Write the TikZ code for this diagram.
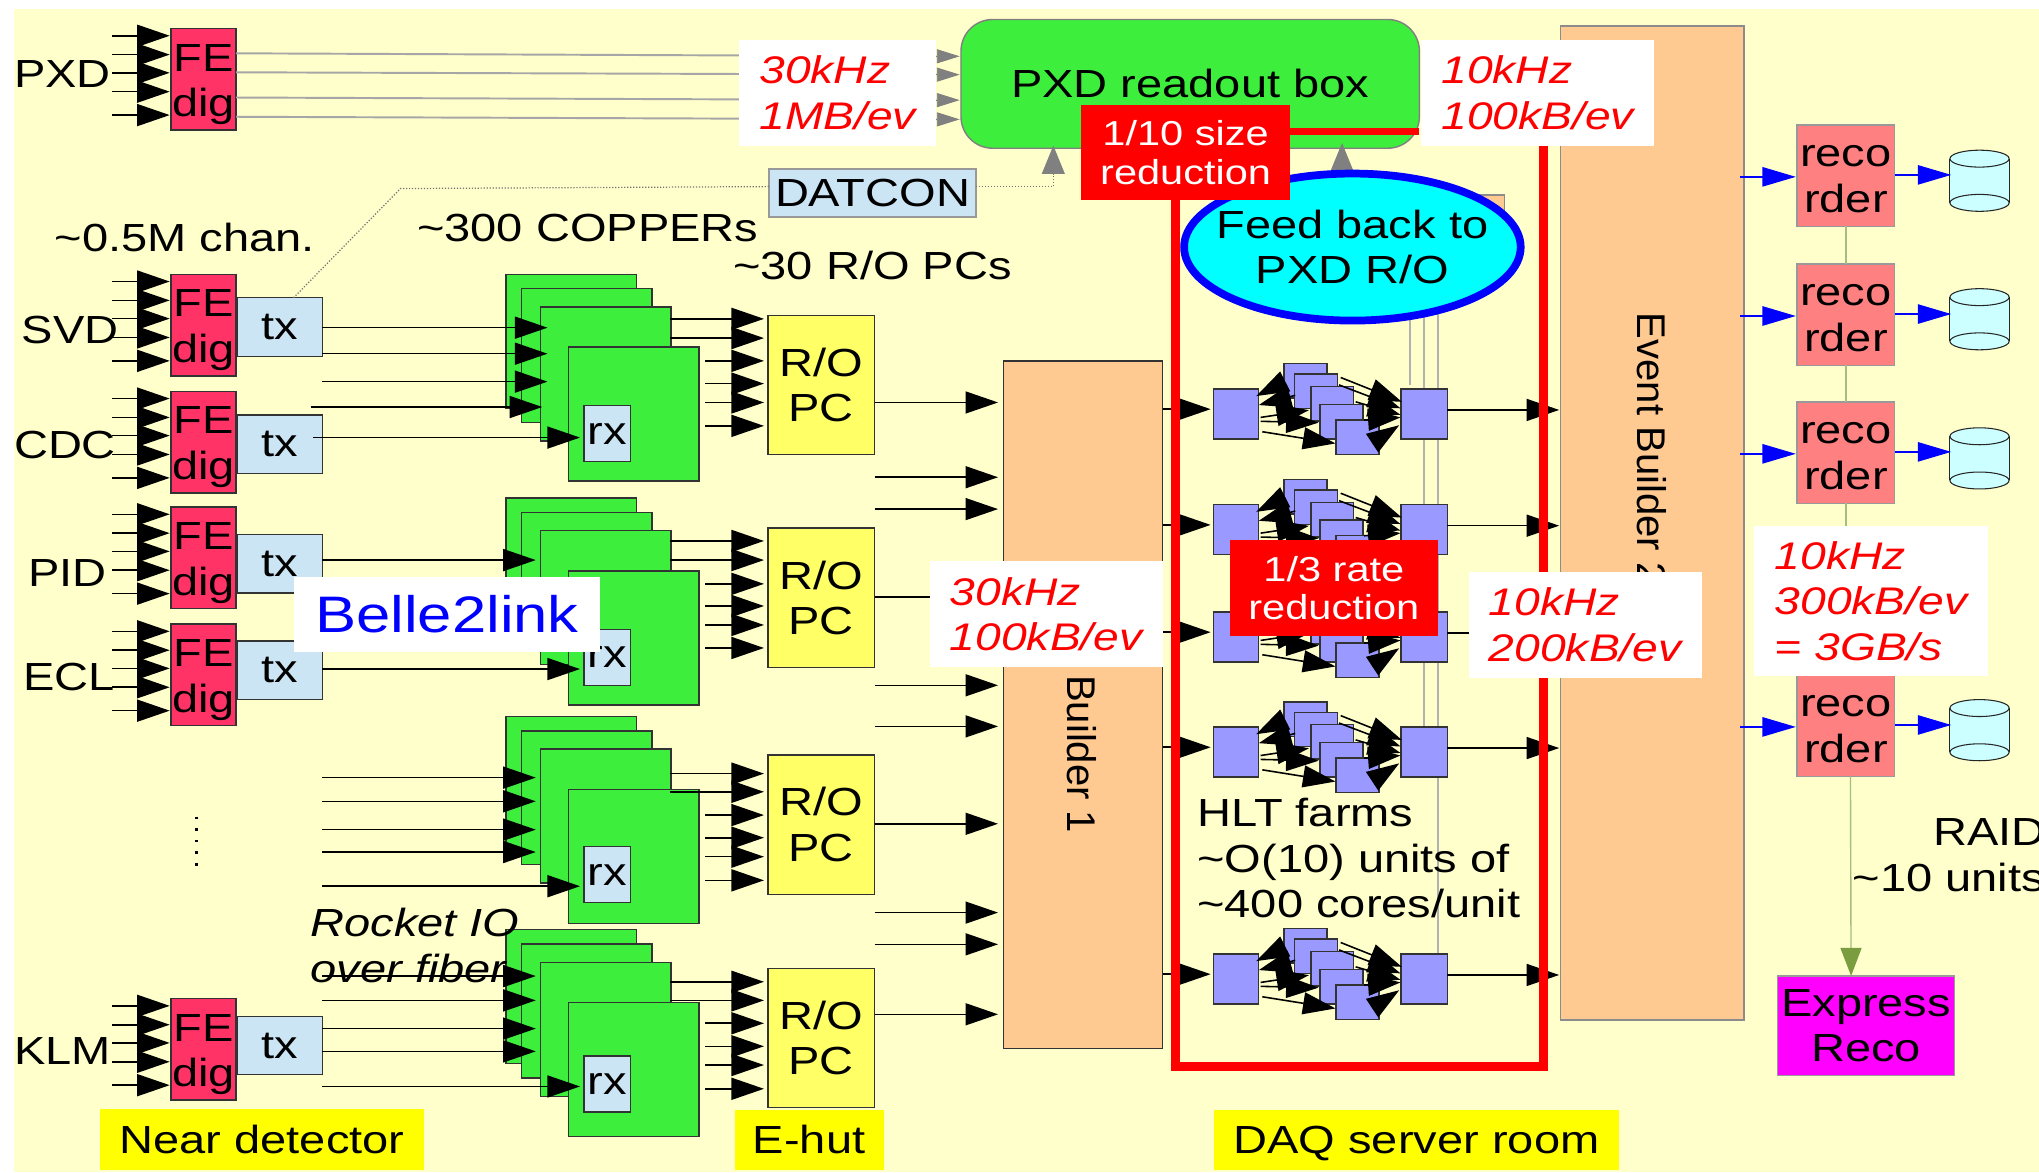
\documentclass[tikz,border=0pt]{standalone}
\usepackage{fontspec}
\setmainfont[FakeStretch=1.2]{Liberation Sans}
\newfontfamily\rotfont{Liberation Sans}
\usetikzlibrary{fit}
\usetikzlibrary{calc}
\usetikzlibrary{arrows.meta}
\usetikzlibrary{shapes.geometric}
\definecolor{paper}{HTML}{FFFFCC}
\definecolor{fered}{HTML}{FF3366}
\definecolor{paleblue}{HTML}{CCE5F5}
\definecolor{copgreen}{HTML}{3DEE3D}
\definecolor{pcyellow}{HTML}{FFFF66}
\definecolor{peach}{HTML}{FFC992}
\definecolor{hltblue}{HTML}{9999FF}
\definecolor{recpink}{HTML}{FF8080}
\definecolor{diskcyan}{HTML}{CCFFFF}
\definecolor{sprout}{HTML}{A8BC80}
\definecolor{sproutdark}{HTML}{7A9E3F}
\definecolor{aqua}{HTML}{00FFFF}
\definecolor{purered}{HTML}{FF0000}
\definecolor{pureblue}{HTML}{0000FF}
\definecolor{puremagenta}{HTML}{FF00FF}
\definecolor{pureyellow}{HTML}{FFFF00}
\definecolor{headgray}{HTML}{808080}
\newcommand{\lblfont}{\fontsize{22.3}{26}\selectfont}

\begin{document}
\begin{tikzpicture}[
  x=0.026cm, y=-0.026cm, font=\lblfont,
  box/.style={draw, black!80, rectangle, line width=0.8pt, inner sep=0pt, outer sep=0pt},
  tag/.style={label={[align=center, black]center:{#1}}},
  tagdown/.style 2 args={label={[align=center, black, yshift=#1]center:{#2}}},
  febox/.style={box, fill=fered},
  txbox/.style={box, fill=paleblue},
  rxbox/.style={box, fill=paleblue},
  copper/.style={box, fill=copgreen},
  ropc/.style={box, fill=pcyellow},
  builder/.style={box, fill=peach},
  hltunit/.style={box, fill=hltblue},
  recorder/.style={box, draw=black!40, fill=recpink},
  ratebox/.style={fill=white, inner sep=0pt, outer sep=0pt,
    label={[align=left, purered, font=\fontsize{21.9}{26}\selectfont\itshape]center:{#1}}},
  redbox/.style={fill=purered, inner sep=0pt, outer sep=0pt,
    label={[align=center, white, font=\fontsize{19.7}{22}\selectfont]center:{#1}}},
  place/.style={fill=pureyellow, inner sep=0pt, outer sep=0pt,
    label={[black, text height=16pt, text depth=0pt]center:{#1}}},
  arr/.style={black, line width=0.9pt, -{Triangle[length=18.5pt, width=12.5pt]}},
  grayarr/.style={black!35, line width=1.1pt},
  grayhead/.style={headgray, line width=0.5pt, -{Triangle[length=16pt, width=13pt]}},
  smallhead/.style={headgray, line width=0.5pt, -{Triangle[length=13pt, width=8pt]}},
  bluearr/.style={pureblue, line width=0.9pt, -{Triangle[length=19pt, width=11pt]}},
  greenline/.style={sprout, line width=0.8pt},
  sideline/.style={black!30, line width=1pt},
  dotline/.style={black!55, line width=0.7pt, densely dotted},
  diskline/.style={black!85, line width=0.6pt, fill=diskcyan},
  redline/.style={purered, line width=5pt},
]
\useasboundingbox (0,0) rectangle (1568,901.3);

\node (bg) [fill=paper, inner sep=0pt, outer sep=0pt, fit={(11,7) (1568,901.3)}] {};

\node (eb) [builder, draw=black!45, fit={(1200,20) (1341,784.5)}] {};
\node (ebname) [rotate=-90, font=\fontsize{22.8}{26}\selectfont\rotfont] at (1270,345) {Event Builder 2};
\node (ebtop) [builder, draw=black!45, fit={(1100,150) (1157,200)}] {};
\node (b1) [builder, fit={(771.5,277.5) (894,806.5)}] {};
\node (b1name) [rotate=-90, font=\fontsize{22.8}{26}\selectfont\rotfont] at (832,580) {Builder 1};

\foreach [evaluate={\yb=\y+78}] \n/\y in {PXD/22,SVD/211,CDC/301,PID/390,ECL/480,KLM/768} {
  \node (fe\n) [febox, tagdown={-3pt}{FE\\dig}, fit={(131.5,\y) (181.5,\yb)}] {};
  \foreach \dd in {5.5,20,34,48.5,66.5}
    \draw[arr] ($(fe\n.north west)+(-45,\dd)$) -- ($(fe\n.north west)+(-1,\dd)$);
}
\foreach \n/\y in {SVD/229,CDC/319,PID/411,ECL/493,KLM/781.5} {
  \node (tx\n) [txbox, tag={tx}, fit={(182.5,\y) (248,\y+45)}] {};
}
\node (lblPXD) at (48,57) {PXD};
\node (lblSVD) at (54,254) {SVD};
\node (lblCDC) at (50,342) {CDC};
\node (lblPID) at (52,441) {PID};
\node (lblECL) at (53,521) {ECL};
\node (lblKLM) at (48,808) {KLM};
\node (chan) at (142,183) {\textasciitilde0.5M chan.};
\node (coppers) at (452,175) {\textasciitilde300 COPPERs};
\node (ropcs) at (671,204) {\textasciitilde30 R/O PCs};

\coordinate (dotsa) at (151,628);
\coordinate (dotsb) at (151,666);
\draw[line width=1.5pt, dash pattern=on 1.5pt off 5.1pt] (dotsa) -- (dotsb);

\node (pxd) [box, draw=black!50, fill=copgreen, rounded corners=18pt, tag={PXD readout box},
  fit={(739,15) (1091.5,114)}] {};
\foreach \ds/\de in {19/28.3,33.6/42.4,53/62,67.8/76.8} {
  \draw[grayarr] ($(fePXD.north east)+(0,\ds)$) -- ($(pxd.north west)+(-19,\de)$);
}

\node (datcon) [txbox, draw=black!40, tag={DATCON}, fit={(591.5,130) (750.5,167)}] {};
\coordinate (dbend) at (308,145);
\coordinate (pxdin) at (810,134);
\coordinate (fbin) at (1032,131);
\draw[dotline] ($(txSVD.north)+(10.5,0)$) -- (dbend) -- ($(datcon.west)+(0,-5)$);
\draw[dotline] ($(datcon.east)+(0,-5)$) -| (pxdin);
\draw[grayhead] (pxdin) -- ++(0,-22);
\draw[grayhead] (fbin) -- ++(0,-21);

\foreach \st/\ytop/\rxd/\rxs/\rxy in {1/211/101/-208/3,2/383/101/-201/9,3/551/100/-201/9,4/715/97/-201/2} {
  \foreach \lay/\xl/\dy in {a/389/0,b/401/11,c/415.5/25,d/437/56}
    \node (cop\st\lay) [copper, fit={(\xl,\ytop+\dy) (\xl+100.5,\ytop+\dy+103)}] {};
  \node (rx\st) [rxbox, tag={rx}, fit={(449,\ytop+\rxd) (485,\ytop+\rxd+43)}] {};
  \draw[arr] ($(rx\st.west)+(\rxs,\rxy)$) -- ($(rx\st.west)+(-3,\rxy)$);
}
\foreach \st/\dy/\xs/\xt in {1/41/-141/32,1/61/-141/32,1/82.5/-141/32,1/102/-150/28,2/47.7/-141/23,
  3/47/-141/23,3/65.2/-141/23,3/87/-141/23,3/104.2/-141/23,
  4/35.6/-141/23,4/54.3/-141/23,4/76/-141/23,4/93.5/-141/23}
  \draw[arr] ($(cop\st a.north west)+(\xs,\dy)$) -- ($(cop\st a.north west)+(\xt,\dy)$);

\foreach \st/\ytop/\yb/\oy/\da/\db/\dc/\de/\df/\dg in {
  1/242.5/349.5/67/2.7/17.5/35/52.5/67/85,
  2/406/513.5/53/10/24.7/43/60/74.6/92.3,
  3/580.5/688/53/14.4/28.4/46.3/63.7/78.3/96.5,
  4/745/851.5/35/10/24.3/41.9/59.6/74/92.3} {
  \node (pc\st) [ropc, tag={R/O\\PC}, fit={(590.5,\ytop) (672.5,\yb)}] {};
  \foreach \dd/\xs in {\da/-75,\db/-75,\dc/-48,\de/-48,\df/-48,\dg/-48}
    \draw[arr] ($(pc\st.north west)+(\xs,\dd)$) -- ($(pc\st.north west)+(-3,\dd)$);
  \draw[arr] ($(pc\st.north east)+(0,\oy)$) -- ($(pc\st.north east)+(95,\oy)$);
}
\foreach \st/\dd in {1/124.5,1/149,2/121,2/152.6,3/121.3,3/145.7}
  \draw[arr] ($(pc\st.north east)+(0,\dd)$) -- ($(pc\st.north east)+(95,\dd)$);

\coordinate (fbc) at (1040,190);
\coordinate (sidea) at (1084,296);
\coordinate (sideb) at (1095,559);
\coordinate (sidec) at (1106,733);
\draw[sideline] ($(fbc)+(44,0)$) -- (sidea);
\draw[sideline] ($(fbc)+(55,0)$) -- (sideb);
\draw[sideline] ($(fbc)+(66,0)$) -- (sidec);

\foreach \ro/\y in {1/299,2/388,3/470.5,4/559,5/733.5} {
  \foreach \lay/\xl/\dy in {a/987.5/-19.3,b/995.5/-11.3,c/1008/-1.7,d/1015/12,e/1027.5/24}
    \node (farm\ro\lay) [hltunit, fit={(\xl,\y+\dy) (\xl+33,\y+\dy+26.5)}] {};
  \node (hin\ro) [hltunit, fit={(933,\y) (968,\y+38.5)}] {};
  \node (hout\ro) [hltunit, fit={(1077.5,\y) (1113,\y+38.5)}] {};
  \draw[arr] ($(hin\ro.west)+(-39,-3.6)$) -- ($(hin\ro.west)+(-2,-3.6)$);
  \draw[arr] ($(hout\ro.east)+(0,-3)$) -- ($(hout\ro.east)+(86,-3)$);
  \foreach \xa/\ya/\xb/\yb in {54/-5/33/5.6,63/5/35/12.5,36.4/22/73.6/16.4,36.4/25/81/26,37.7/33/94/42,
    98/-8.7/145/10,96.7/-3/144/15,109.5/10/144/20,116/24/144/22,123.6/40.8/143/28}
    \draw[arr] ($(hin\ro.north west)+(\xa,\ya)$) -- ($(hin\ro.north west)+(\xb,\yb)$);
}

\coordinate (frametl) at (904,150);
\coordinate (framebl) at (904,820);
\coordinate (framebr) at (1187,820);
\coordinate (frametr) at (1187,110);
\draw[redline] (frametl) -- (framebl) -- (framebr) -- (frametr);

\node (fb) [ellipse, draw=pureblue, fill=aqua, line width=4.4pt, inner sep=0pt, outer sep=0pt,
  minimum width=6.73cm, minimum height=2.94cm,
  tag={Feed back to\\PXD R/O}] at (fbc) {};

\node (ratepxd) [ratebox={30kHz\\1MB/ev}, fit={(568.5,30.5) (720,112)}] {};
\foreach \de in {28.3,42.4,62,76.8} {
  \draw[smallhead] ($(pxd.north west)+(-19,\de)$) -- ($(pxd.north west)+(-1,\de)$);
}
\node (rateout) [ratebox={10kHz\\100kB/ev}, fit={(1093,30.5) (1272,112)}] {};
\node (rateb1) [ratebox={30kHz\\100kB/ev}, fit={(715,431.5) (894,513)}] {};
\node (ratehlt) [ratebox={10kHz\\200kB/ev}, fit={(1129.5,440) (1308.5,521)}] {};
\node (redsize) [redbox={1/10 size\\reduction}, fit={(831.5,81) (992,154)}] {};
\node (redrate) [redbox={1/3 rate\\reduction}, fit={(945.5,415.5) (1106,489)}] {};
\draw[purered, line width=4pt] ($(redsize.north east)+(0,20)$) -- ($(pxd.north east)+(0,86)$);

\node (hlt) [anchor=west, align=left] at (916,660) {HLT farms\\\textasciitilde O(10) units of\\\textasciitilde 400 cores/unit};

\foreach \i/\y in {1/96,2/203,3/309,4/519} {
  \node (rec\i) [recorder, tagdown={-2pt}{reco\\rder}, fit={(1382,\y) (1457,\y+78)}] {};
}
\foreach \i/\y in {1/115.5,2/222,3/329,4/538} {
  \node (disk\i) [inner sep=0pt, outer sep=0pt, fit={(1499.5,\y) (1545,\y+47)}] {};
  \fill[diskcyan] ($(disk\i.north west)+(0,6.5)$) rectangle ($(disk\i.south east)+(0,-6.5)$);
  \draw[black!85, line width=0.6pt] ($(disk\i.north west)+(0,6.5)$) -- ($(disk\i.south west)+(0,-6.5)$)
    ($(disk\i.north east)+(0,6.5)$) -- ($(disk\i.south east)+(0,-6.5)$);
  \draw[diskline] ($(disk\i.north)+(0,6.5)$) ellipse (22.75 and 6.5);
  \draw[diskline] ($(disk\i.south)+(0,-6.5)$) ellipse (22.75 and 6.5);
  \draw[bluearr] ($(rec\i.west)+(-44,1)$) -- ($(rec\i.west)+(-1,1)$);
  \draw[bluearr] ($(rec\i.east)+(0,-0.5)$) -- ($(rec\i.east)+(43.5,-0.5)$);
}
\draw[greenline] (rec1) -- (rec2);
\draw[greenline] (rec2) -- (rec3);
\draw[greenline] (rec3) -- (rec4);

\node (exp) [box, draw=black!40, fill=puremagenta, tag={Express\\Reco}, fit={(1367,750.5) (1503,827)}] {};
\draw[sprout, line width=0.8pt, -{Triangle[length=16pt, width=12pt, color=sproutdark]}]
  ($(rec4.south)+(3.5,0)$) -- ($(exp.north)+(-11.5,0)$);

\node (raterec) [ratebox={10kHz\\300kB/ev\\= 3GB/s}, fit={(1349,404.5) (1528.5,520)}] {};
\node (raid) [anchor=west] at (1482,640) {RAID};
\node (units) [anchor=west] at (1420,675) {\textasciitilde10 units};

\node (rocket) [anchor=west, align=left, font=\lblfont\itshape] at (234,727) {Rocket IO\\over fiber};

\node (belle) [fill=white, inner sep=0pt, outer sep=0pt,
  label={[pureblue, font=\fontsize{29.2}{35}\selectfont]center:{Belle2link}},
  fit={(226,443.5) (461.5,501.5)}] {};

\node (near) [place={Near detector}, fit={(77,853) (326,899.5)}] {};
\node (ehut) [place={E-hut}, fit={(565,853.5) (679.5,899.5)}] {};
\node (daq) [place={DAQ server room}, fit={(933.5,853.5) (1245,899.5)}] {};
\end{tikzpicture}
\end{document}
